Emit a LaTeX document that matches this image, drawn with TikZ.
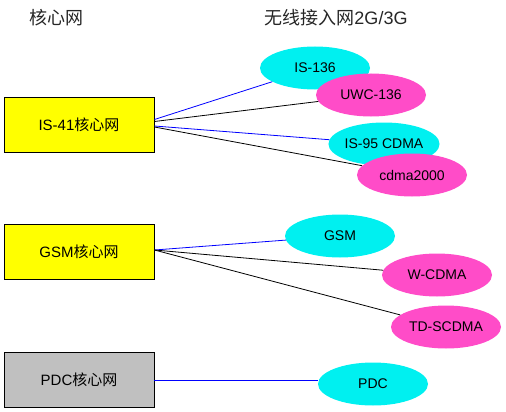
\documentclass[tikz,border=0pt]{standalone}
\usepackage{fontspec}
\setmainfont{Liberation Sans}
\newfontfamily\cjk{Noto Sans CJK SC}
\usetikzlibrary{shapes.geometric}
\definecolor{netcyan}{RGB}{0,240,240}
\definecolor{netpink}{RGB}{255,76,200}
\definecolor{coreyel}{RGB}{255,255,0}
\definecolor{coregray}{RGB}{192,192,192}
\newcommand{\hx}{{\cjk 核心网}}
\tikzset{
  core/.style   ={draw, line width=0.9pt, minimum width=150pt, minimum height=55pt, inner sep=0pt, font=\fontsize{15}{17}\selectfont},
  ran/.style    ={ellipse, minimum width=110pt, minimum height=43pt, inner sep=0pt, font=\fontsize{14}{16}\selectfont},
  oldran/.style ={ran, fill=netcyan},
  newran/.style ={ran, fill=netpink},
  blink/.style  ={line width=0.8pt, draw=blue},
  klink/.style  ={line width=0.8pt, draw=black},
  head/.style   ={font=\fontsize{18}{20}\selectfont, text=black!85},
}

\begin{document}
\begin{tikzpicture}[x=1pt, y=-1pt]
  \useasboundingbox (0,0) rectangle (506,412);
  \node[head] (hcore) at (56,18) {\hx};
  \node[head] (hran) at (336,18) {{\cjk 无线接入网}2G/3G};
  % core networks
  \node[core, fill=coreyel] (is41) at (79,124.5) {IS-41\hx};
  \node[core, fill=coreyel] (gsmc) at (79,252) {GSM\hx};
  \node[core, fill=coregray] (pdcc) at (79,380) {PDC\hx};
  % radio access networks
  \node[oldran] (is136) at (315,68) {IS-136};
  \node[newran] (uwc) at (371,95) {UWC-136};
  \node[oldran] (is95) at (384,144) {IS-95 CDMA};
  \node[newran] (cdma) at (412,175) {cdma2000};
  \node[oldran] (gsm) at (340,236) {GSM};
  \node[newran] (wcdma) at (437,275) {W-CDMA};
  \node[newran] (tds) at (446,327) {TD-SCDMA};
  \node[oldran] (pdc) at (373,384) {PDC};
  \draw[blink] ([yshift=5pt]is41.east) -- (is136);
  \draw[klink] ([yshift=3pt]is41.east) -- (uwc);
  \draw[blink] ([yshift=-1.5pt]is41.east) -- (is95);
  \draw[klink] ([yshift=-2.5pt]is41.east) -- (cdma);
  \draw[blink] ([yshift=2pt]gsmc.east) -- (gsm);
  \draw[klink] ([yshift=2pt]gsmc.east) -- (wcdma);
  \draw[klink] ([yshift=2pt]gsmc.east) -- (tds);
  \draw[blink] (pdcc.east) -- (pdcc.east -| pdc.west);
\end{tikzpicture}
\end{document}
